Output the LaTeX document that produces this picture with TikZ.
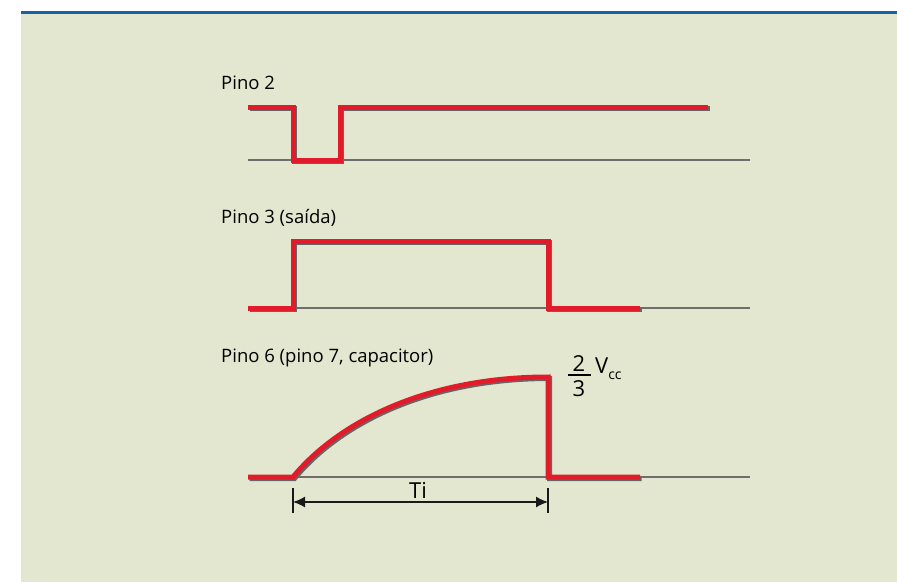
\documentclass[tikz,border=0pt]{standalone}
\usepackage{fontspec}
\setmainfont{Open Sans}
\usetikzlibrary{arrows.meta}
\definecolor{panelbg}{HTML}{E3E7CF}
\definecolor{panelblue}{HTML}{1B5FA8}
\definecolor{sigred}{HTML}{E21B2B}
\definecolor{axisgray}{HTML}{6E6E6E}
\begin{document}
\begin{tikzpicture}[
    x=1pt, y=-1pt,
    every node/.style={font=\fontsize{18.5}{21}\selectfont, inner sep=0pt},
    pinlabel/.style={anchor=base west},
    bignum/.style={font=\fontsize{22}{24}\selectfont, anchor=base},
    axis/.style={draw=axisgray, line width=1.6pt},
    wave/.style={draw=sigred, line width=5pt, line join=miter,
      preaction={draw=black!60, line width=5pt,
        transform canvas={xshift=1.5pt, yshift=-1.5pt}}},
    dimline/.style={draw=black!90, line width=1.4pt},
  ]
    \useasboundingbox (0,0) rectangle (897,582);

    % Panel
    \fill[white] (0,0) rectangle (897,582);
    \fill[panelbg] (21,13.5) rectangle (897,582);
    \fill[panelblue] (21,10.5) rectangle (897,13.5);

    % Time marks (trigger and end of timing)
    \def\tA{293}
    \def\tB{548}

    % Zero lines
    \def\yTwo{160}
    \def\yThree{308}
    \def\ySix{477}
    \foreach \y in {\yTwo,\yThree,\ySix} {
      \draw[axis] (248,\y) -- (750,\y);
    }

    % Labels
    \node[pinlabel] (pinA) at (221,89) {Pino 2};
    \node[pinlabel] (pinB) at (221,223) {Pino 3 (saída)};
    \node[pinlabel] (pinC) at (221,362) {Pino 6 (pino 7, capacitor)};

    % Pino 2: short negative trigger pulse
    \draw[wave] (248,107) -- (\tA,107) -- (\tA,\yTwo) -- (340,\yTwo)
      -- (340,107) -- (708,107);

    % Pino 3: output pulse
    \draw[wave] (248,\yThree) -- (\tA,\yThree) -- (\tA,241) -- (\tB,241)
      -- (\tB,\yThree) -- (640,\yThree);

    % Pino 6: capacitor charging up to 2/3 Vcc
    \draw[wave] (248,\ySix) -- (\tA,\ySix)
      .. controls (340,420) and (430,377) .. (\tB,377)
      -- (\tB,\ySix) -- (640,\ySix);

    % 2/3 Vcc
    \node[bignum] (num) at (579,371) {2};
    \node[bignum] (den) at (579,396) {3};
    \draw[line width=1.3pt] (568,375) -- (591,375);
    \node[bignum, anchor=base west] (vcc) at (595,373)
      {V\raisebox{-6pt}{\fontsize{14}{14}\selectfont cc}};

    % Ti
    \draw[dimline] (\tA,488) -- (\tA,513);
    \draw[dimline] (\tB,488) -- (\tB,513);
    \coordinate (tiL) at (\tA,502);
    \coordinate (tiR) at (\tB,502);
    \draw[dimline, {Latex[length=12pt,width=11pt]}-{Latex[length=12pt,width=11pt]}]
      (tiL) -- (tiR);
    \node[bignum] (ti) at (418,498) {Ti};

  \end{tikzpicture}
\end{document}
